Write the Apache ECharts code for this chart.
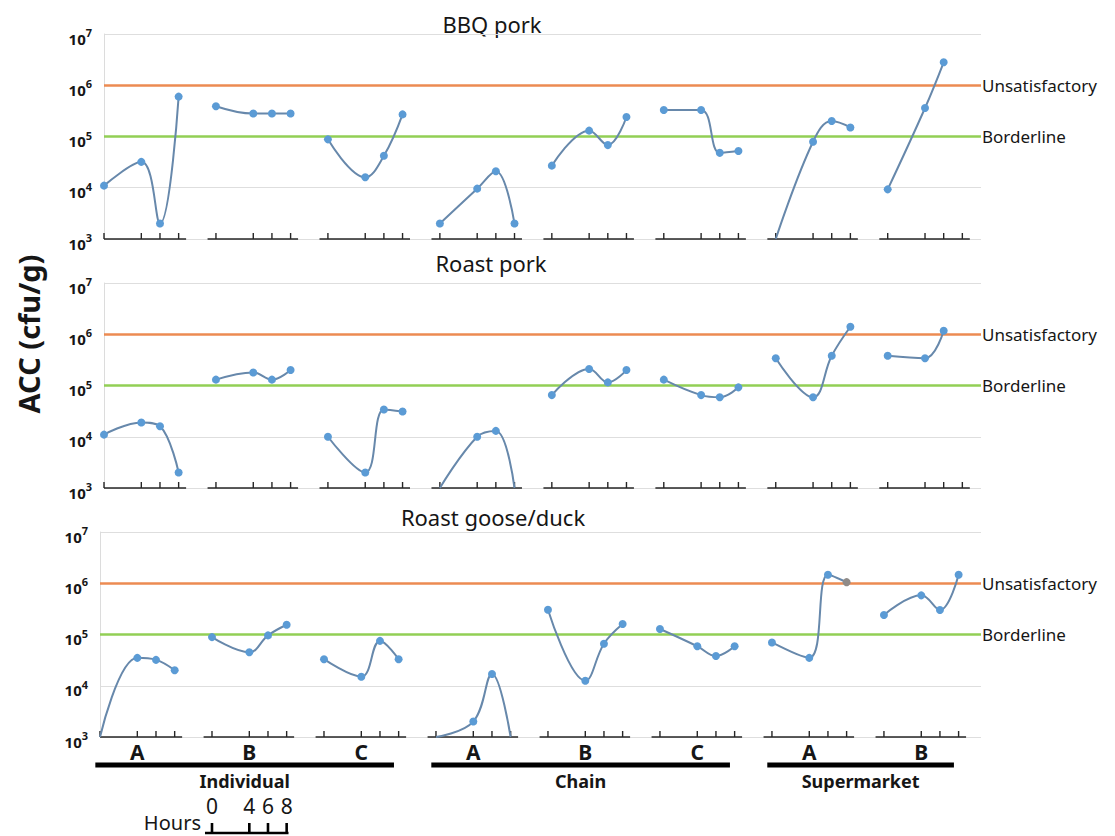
<!DOCTYPE html>
<html>
<head>
<meta charset="utf-8">
<title>ACC during storage</title>
<script src="https://cdn.jsdelivr.net/npm/echarts@6/dist/echarts.min.js"></script>
<style>
  html, body { margin: 0; padding: 0; background: #fff; }
  #chart { width: 1115px; height: 836px; }
</style>
</head>
<body>
<div id="chart"></div>
<script>
// sampling hours inside every outlet group
const hours = [0, 4, 6, 8]
const groupLabels = ['A', 'B', 'C', 'A', 'B', 'C', 'A', 'B']
const outletNames = ['Individual', 'Chain', 'Supermarket']
const outletGroupCount = [3, 3, 2]
const panelTitles = ['BBQ pork', 'Roast pork', 'Roast goose/duck']
const yTickPowers = [3, 4, 5, 6, 7]
const limitValues = [1e6, 1e5]
const limitNames = ['Unsatisfactory', 'Borderline']

// ACC (cfu/g), one row per group, values at 0/4/6/8 h (null = no sample)
const bbqPork = [
  [1.1e4, 3.2e4, 2.0e3, 6.0e5],
  [3.9e5, 2.8e5, 2.8e5, 2.8e5],
  [8.8e4, 1.6e4, 4.2e4, 2.7e5],
  [2.0e3, 9.6e3, 2.1e4, 2.0e3],
  [2.7e4, 1.3e5, 6.8e4, 2.4e5],
  [3.3e5, 3.3e5, 4.8e4, 5.2e4],
  [1.0e3, 7.9e4, 2.0e5, 1.5e5],
  [9.3e3, 3.6e5, 2.8e6, null]
]
const roastPork = [
  [1.1e4, 1.9e4, 1.6e4, 2.0e3],
  [1.3e5, 1.8e5, 1.3e5, 2.0e5],
  [1.0e4, 2.0e3, 3.4e4, 3.1e4],
  [1.0e3, 1.0e4, 1.3e4, 1.0e3],
  [6.5e4, 2.1e5, 1.15e5, 2.0e5],
  [1.3e5, 6.5e4, 5.9e4, 9.2e4],
  [3.4e5, 5.9e4, 3.8e5, 1.4e6],
  [3.8e5, 3.4e5, 1.17e6, null]
]
const roastGoose = [
  [1.0e3, 3.5e4, 3.2e4, 2.0e4],
  [8.9e4, 4.5e4, 9.6e4, 1.55e5],
  [3.3e4, 1.5e4, 7.5e4, 3.3e4],
  [1.0e3, 2.0e3, 1.7e4, 1.0e3],
  [3.05e5, 1.25e4, 6.6e4, 1.6e5],
  [1.28e5, 5.9e4, 3.8e4, 5.9e4],
  [7.0e4, 3.5e4, 1.47e6, 1.05e6],
  [2.4e5, 5.8e5, 3.0e5, 1.47e6]
]
const panels = [bbqPork, roastPork, roastGoose]

// 布局
const FONT = '"Noto Sans", "Open Sans", sans-serif'
const GROUP_STEP = 12
const grids = [
  { left: 104, top: 34, width: 877, height: 205 },
  { left: 104, top: 283, width: 877, height: 205 },
  { left: 100, top: 532, width: 881, height: 205 }
]
const xMax = [94, 94, 94.4]
const titlePos = [[492, 24], [491, 263], [493, 517]]
const limitColors = ['#ec8b52', '#92cf55']
const lineColor = '#6788ab'
const markerColor = '#5b9bd5'
const inkColor = '#161616'
const LOD = 1000 // axis floor, drawn without marker

const series = []

panels.forEach((rows, p) => {
  rows.forEach((vals, g) => {
    const data = []
    vals.forEach((v, i) => {
      if (v != null) data.push([g * GROUP_STEP + hours[i], v])
    })
    const s = {
      type: 'line',
      xAxisIndex: p,
      yAxisIndex: p,
      data: data,
      smooth: 0.4,
      symbol: 'circle',
      symbolSize: v => (v[1] <= LOD ? 0 : 8),
      lineStyle: { color: lineColor, width: 2 },
      itemStyle: { color: markerColor },
      z: 5
    }
    // one greyish marker in the supermarket A goose/duck group
    if (p === 2 && g === 6) {
      s.data = data.map((d, i) => (i === 3 ? { value: d, itemStyle: { color: '#908b88' } } : d))
    }
    if (g === 0) {
      s.markLine = {
        silent: true,
        symbol: ['none', 'none'],
        animation: false,
        data: limitValues.map((v, i) => ({
          yAxis: v,
          lineStyle: { color: limitColors[i], width: 2.5, type: 'solid' },
          label: {
            show: true,
            position: 'end',
            distance: 1,
            formatter: limitNames[i],
            color: inkColor,
            fontFamily: FONT,
            fontSize: 17,
            padding: i === 1 ? [10, 0, 0, 0] : [0, 0, 0, 0]
          }
        }))
      }
    }
    series.push(s)
  })

  // 每组的小横轴和刻度
  series.push({
    type: 'custom',
    xAxisIndex: p,
    yAxisIndex: p,
    silent: true,
    clip: false,
    z: 3,
    data: groupLabels.map((_, g) => [g * GROUP_STEP, LOD]),
    renderItem: (params, api) => {
      const x0 = api.value(0)
      const a = api.coord([Math.max(x0 - 0.9, 0), LOD])
      const b = api.coord([x0 + 8.8, LOD])
      const children = [{
        type: 'line',
        shape: { x1: a[0], y1: a[1], x2: b[0], y2: b[1] },
        style: { stroke: '#262626', lineWidth: 1.7 }
      }]
      hours.forEach(h => {
        const c = api.coord([x0 + h, LOD])
        children.push({
          type: 'line',
          shape: { x1: c[0], y1: c[1], x2: c[0], y2: c[1] - 6 },
          style: { stroke: '#262626', lineWidth: 1.4 }
        })
      })
      return { type: 'group', children: children }
    }
  })
})

// 底部分组标签（A/B/C）
series.push({
  type: 'custom',
  xAxisIndex: 2,
  yAxisIndex: 2,
  silent: true,
  clip: false,
  data: groupLabels.map((_, g) => [g * GROUP_STEP + 4, LOD]),
  renderItem: (params, api) => {
    const c = api.coord([api.value(0), LOD])
    return {
      type: 'text',
      x: c[0],
      y: c[1] + 15,
      style: {
        text: groupLabels[params.dataIndex],
        font: 'bold 21px ' + FONT,
        fill: inkColor,
        align: 'center',
        verticalAlign: 'middle'
      }
    }
  }
})

// 门店类别横条
const outletStart = outletGroupCount.map((n, i) => outletGroupCount.slice(0, i).reduce((s, k) => s + k, 0))
series.push({
  type: 'custom',
  xAxisIndex: 2,
  yAxisIndex: 2,
  silent: true,
  clip: false,
  data: outletNames.map((_, i) => [outletStart[i] * GROUP_STEP, LOD]),
  renderItem: (params, api) => {
    const i = params.dataIndex
    const last = outletStart[i] + outletGroupCount[i] - 1
    const a = api.coord([outletStart[i] * GROUP_STEP - 0.5, LOD])
    const b = api.coord([last * GROUP_STEP + 7.5, LOD])
    return {
      type: 'group',
      children: [
        {
          type: 'rect',
          shape: { x: a[0], y: a[1] + 25.5, width: b[0] - a[0], height: 5 },
          style: { fill: '#000' }
        },
        {
          type: 'text',
          x: (a[0] + b[0]) / 2,
          y: a[1] + 44,
          style: {
            text: outletNames[i],
            font: 'bold 18px ' + FONT,
            fill: inkColor,
            align: 'center',
            verticalAlign: 'middle'
          }
        }
      ]
    }
  }
})

// Hours 图例（放在第二组下方）
series.push({
  type: 'custom',
  xAxisIndex: 2,
  yAxisIndex: 2,
  silent: true,
  clip: false,
  data: [[GROUP_STEP, LOD]],
  renderItem: (params, api) => {
    const x0 = api.value(0)
    const base = api.coord([x0, LOD])[1] + 96
    const a = api.coord([x0 - 0.75, LOD])[0]
    const b = api.coord([x0 + 8.2, LOD])[0]
    const children = [
      {
        type: 'line',
        shape: { x1: a, y1: base, x2: b, y2: base },
        style: { stroke: '#000', lineWidth: 2.5 }
      },
      {
        type: 'text',
        x: a - 4,
        y: base - 11,
        style: { text: 'Hours', font: '20px ' + FONT, fill: inkColor, align: 'right', verticalAlign: 'middle' }
      }
    ]
    hours.forEach(h => {
      const x = api.coord([x0 + h, LOD])[0]
      children.push({
        type: 'line',
        shape: { x1: x, y1: base, x2: x, y2: base - 10 },
        style: { stroke: '#000', lineWidth: 2.6 }
      })
      children.push({
        type: 'text',
        x: x,
        y: base - 27,
        style: { text: String(h), font: '21px ' + FONT, fill: inkColor, align: 'center', verticalAlign: 'middle' }
      })
    })
    return { type: 'group', children: children }
  }
})

const option = {
  backgroundColor: '#fff',
  animation: false,
  grid: grids,
  xAxis: grids.map((_, p) => ({
    type: 'value',
    gridIndex: p,
    min: 0,
    max: xMax[p],
    show: false
  })),
  yAxis: grids.map((_, p) => ({
    type: 'log',
    logBase: 10,
    gridIndex: p,
    min: 1e3,
    max: 1e7,
    axisLine: { show: true, lineStyle: { color: '#dcdcdc', width: 1 } },
    axisTick: { show: false },
    splitLine: { show: true, lineStyle: { color: '#dedede', width: 1 } },
    axisLabel: {
      margin: 12,
      padding: [9, 0, 0, 0],
      formatter: v => {
        const k = Math.round(Math.log10(v))
        return yTickPowers.includes(k) ? '{b|10}{s|' + k + '}' : ''
      },
      rich: {
        b: { fontFamily: FONT, fontWeight: 'bold', fontSize: 15, color: inkColor },
        s: { fontFamily: FONT, fontWeight: 'bold', fontSize: 11, color: inkColor, verticalAlign: 'bottom', padding: [0, 0, 12, 0] }
      }
    }
  })),
  graphic: [
    {
      type: 'text',
      x: 28,
      y: 334,
      rotation: Math.PI / 2,
      style: {
        text: 'ACC (cfu/g)',
        font: 'bold 29px ' + FONT,
        fill: inkColor,
        align: 'center',
        verticalAlign: 'middle'
      }
    }
  ].concat(panelTitles.map((t, p) => ({
    type: 'text',
    x: titlePos[p][0],
    y: titlePos[p][1],
    style: {
      text: t,
      font: '22px ' + FONT,
      fill: inkColor,
      align: 'center',
      verticalAlign: 'middle'
    }
  }))),
  series: series
}

const chart = echarts.init(document.getElementById('chart'), null, { renderer: 'svg' })
chart.setOption(option)
window.addEventListener('resize', () => chart.resize())
</script>
</body>
</html>
